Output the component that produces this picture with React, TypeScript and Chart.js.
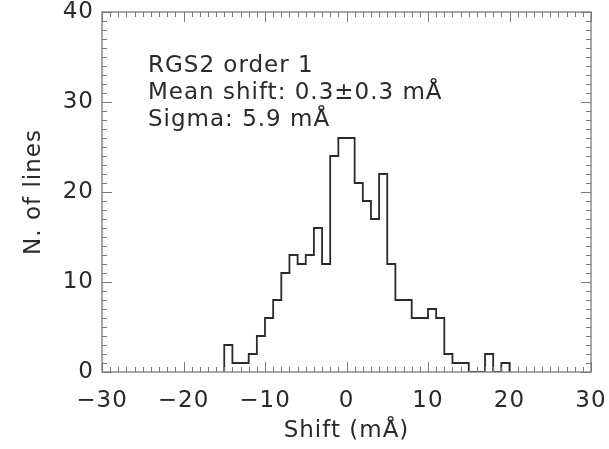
import React, { useEffect, useRef } from 'react';
import { Chart, registerables } from 'chart.js';

Chart.register(...registerables);

// ---- data ----
const binStart = -15;
const binWidth = 1;
const counts = [3, 1, 1, 2, 4, 6, 8, 11, 13, 12, 13, 16, 12, 24, 26, 26, 21, 19, 17, 22, 12, 8, 8, 6, 6, 7, 6, 2, 1, 1, 0, 0, 2, 0, 1];
const xRange = [-30, 30];
const yRange = [0, 40];
const xMajorStep = 10;
const yMajorStep = 10;
const xMinorStep = 1;
const yMinorStep = 1;
const annotationLines = ['RGS2 order 1', 'Mean shift: 0.3\u00B10.3 m\u00C5', 'Sigma: 5.9 m\u00C5'];
const xTitle = 'Shift (m\u00C5)';
const yTitle = 'N. of lines';

const FONT_FAMILY = '"DejaVu Sans", "Liberation Sans", sans-serif';
const FONT_SIZE = 23;
const TEXT_COLOR = '#2a2a2a';

const spacingPlugin = {
  id: 'letterSpacing',
  beforeDraw(chart: any) {
    try {
      (chart.ctx as any).letterSpacing = '1px';
    } catch (e) {
      /* ignore */
    }
  },
};

const framePlugin = {
  id: 'idlFrame',
  afterDatasetsDraw(chart: any) {
    const { ctx, chartArea } = chart;
    const { left, right, top, bottom } = chartArea;
    const xs = chart.scales.x;
    const ys = chart.scales.y;
    ctx.save();
    ctx.strokeStyle = '#7a7a7a';
    ctx.lineWidth = 1.3;
    ctx.strokeRect(left, top, right - left, bottom - top);
    ctx.beginPath();
    for (let v = xRange[0]; v <= xRange[1] + 1e-9; v += xMinorStep) {
      const px = Math.round(xs.getPixelForValue(v)) + 0.5;
      const major = Math.abs(v % xMajorStep) < 1e-9;
      const len = major ? 10 : 5;
      ctx.moveTo(px, bottom);
      ctx.lineTo(px, bottom - len);
      ctx.moveTo(px, top);
      ctx.lineTo(px, top + len);
    }
    for (let v = yRange[0]; v <= yRange[1] + 1e-9; v += yMinorStep) {
      const py = Math.round(ys.getPixelForValue(v)) + 0.5;
      const major = Math.abs(v % yMajorStep) < 1e-9;
      const len = major ? 10 : 5;
      ctx.moveTo(left, py);
      ctx.lineTo(left + len, py);
      ctx.moveTo(right, py);
      ctx.lineTo(right - len, py);
    }
    ctx.lineWidth = 1;
    ctx.stroke();

    // annotation text
    ctx.fillStyle = TEXT_COLOR;
    ctx.font = `${FONT_SIZE}px ${FONT_FAMILY}`;
    ctx.textAlign = 'left';
    ctx.textBaseline = 'alphabetic';
    try {
      ctx.letterSpacing = '1px';
    } catch (e) {
      /* ignore */
    }
    annotationLines.forEach((t, i) => {
      ctx.fillText(t, left + 46, top + 60 + i * 27);
    });
    ctx.restore();
  },
};

export default function App() {
  const canvasRef = useRef<HTMLCanvasElement | null>(null);

  useEffect(() => {
    const canvas = canvasRef.current;
    if (!canvas) return;
    const points: { x: number; y: number }[] = [{ x: binStart, y: 0 }];
    counts.forEach((c, i) => points.push({ x: binStart + i * binWidth, y: c }));
    points.push({ x: binStart + counts.length * binWidth, y: 0 });

    const fmt = (v: number) => (v < 0 ? '\u2212' + Math.abs(v) : String(v));

    const chart = new Chart(canvas, {
      type: 'scatter',
      data: {
        datasets: [
          {
            data: points,
            showLine: true,
            stepped: 'before',
            borderColor: '#2a2a2a',
            borderWidth: 1.8,
            pointRadius: 0,
            fill: false,
          } as any,
        ],
      },
      options: {
        animation: false,
        responsive: false,
        devicePixelRatio: 1,
        layout: { padding: { left: 0, top: 12, right: 18, bottom: 0 } },
        plugins: { legend: { display: false }, tooltip: { enabled: false }, title: { display: false } },
        scales: {
          x: {
            type: 'linear',
            min: xRange[0],
            max: xRange[1],
            grid: { display: false, drawTicks: false },
            border: { display: false },
            ticks: {
              stepSize: xMajorStep,
              padding: 15,
              color: TEXT_COLOR,
              font: { family: FONT_FAMILY, size: FONT_SIZE },
              maxRotation: 0,
              callback: (v: any) => fmt(Number(v)),
            },
            title: {
              display: true,
              text: xTitle,
              color: TEXT_COLOR,
              font: { family: FONT_FAMILY, size: FONT_SIZE },
              padding: { top: 0, bottom: 4 },
            },
            afterFit: (s: any) => {
              s.height = 77;
              s.paddingLeft = 0;
              s.paddingRight = 0;
            },
          },
          y: {
            type: 'linear',
            min: yRange[0],
            max: yRange[1],
            grid: { display: false, drawTicks: false },
            border: { display: false },
            ticks: {
              stepSize: yMajorStep,
              padding: 8,
              color: TEXT_COLOR,
              font: { family: FONT_FAMILY, size: FONT_SIZE },
              callback: (v: any) => fmt(Number(v)),
            },
            title: {
              display: true,
              text: yTitle,
              color: TEXT_COLOR,
              font: { family: FONT_FAMILY, size: FONT_SIZE },
              padding: { top: 20, bottom: 0 },
            },
            afterFit: (s: any) => {
              s.width = 102;
              s.paddingTop = 0;
              s.paddingBottom = 0;
            },
          },
        },
      },
      plugins: [spacingPlugin, framePlugin],
    });
    return () => chart.destroy();
  }, []);

  return (
    <div style={{ position: 'fixed', left: 0, top: 0, width: 609, height: 449, background: '#fff' }}>
      <canvas ref={canvasRef} width={609} height={449} style={{ display: 'block', width: 609, height: 449 }} />
    </div>
  );
}
